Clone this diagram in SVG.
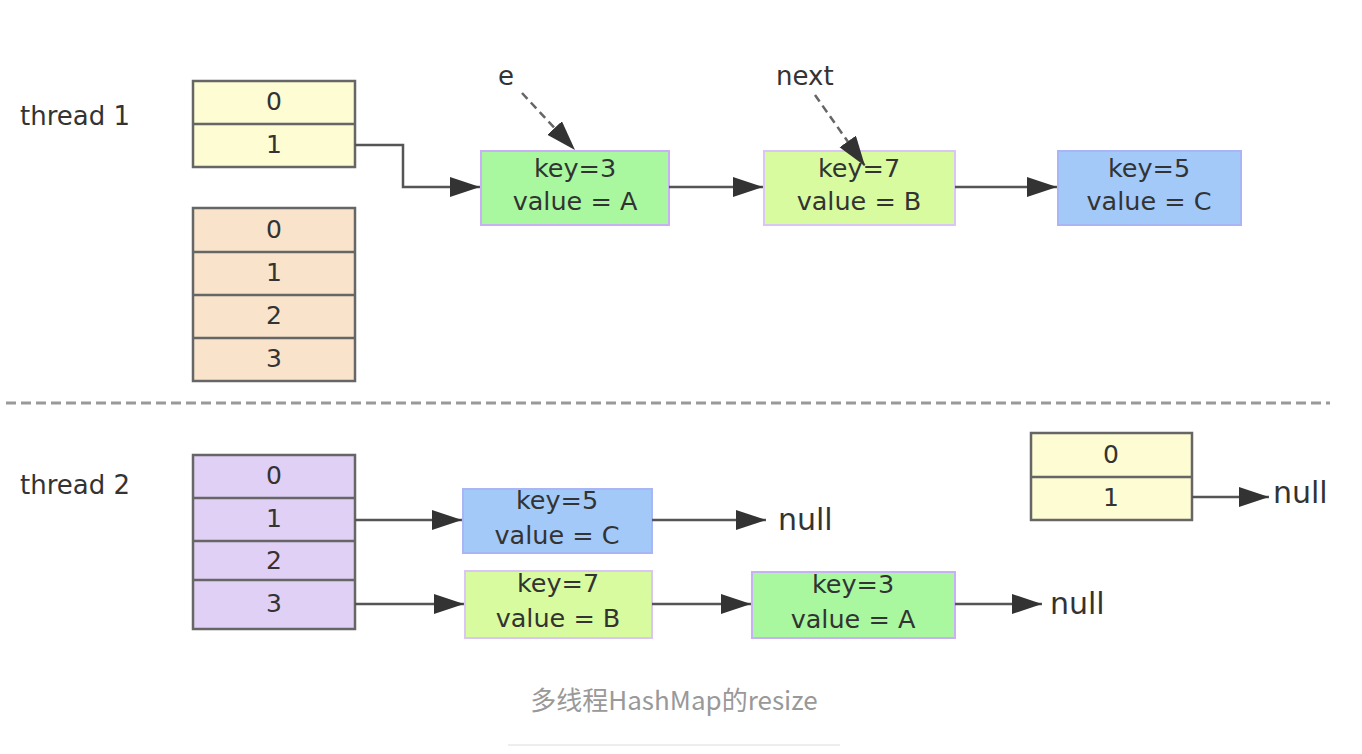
<svg xmlns="http://www.w3.org/2000/svg" width="1362" height="754" viewBox="0 0 1362 754">
<defs>
<marker id="ah" markerUnits="userSpaceOnUse" markerWidth="32" markerHeight="22" refX="30" refY="10" orient="auto">
<path d="M0,0 L30,10 L0,20 z" fill="#333"/>
</marker>
<style>
text{font-family:"DejaVu Sans","Liberation Sans",sans-serif;fill:#333}
.lbl{font-size:26px}
.num{font-size:25px;text-anchor:middle}
.kv{font-size:25.5px;text-anchor:middle}
.nul{font-size:30px}
.tbl{stroke:#666;stroke-width:2.5}
.yel{fill:#fdfcd3}
.pch{fill:#f9e3cb}
.pur{fill:#e0d0f6}
.conn{fill:none;stroke:#555;stroke-width:2.5;marker-end:url(#ah)}
.dash{fill:none;stroke:#666;stroke-width:2.5;stroke-dasharray:8,5;marker-end:url(#ah)}
.nA{fill:#a9f8a0;stroke:#c7b0f3;stroke-width:2}
.nB{fill:#d9fb9f;stroke:#d9c6f5;stroke-width:2}
.nC{fill:#a3c9f8;stroke:#a9b5f5;stroke-width:2}
</style>
</defs>
<rect width="1362" height="754" fill="#fff"/>

<g id="labels">
<text class="lbl" x="20" y="125">thread 1</text>
<text class="lbl" x="20" y="494">thread 2</text>
<text class="lbl" x="498" y="85">e</text>
<text class="lbl" x="776" y="85">next</text>
</g>

<g id="t1-table">
<rect class="tbl yel" x="193" y="81" width="162" height="86"/>
<line class="tbl" x1="193" y1="124" x2="355" y2="124"/>
<text class="num" x="274" y="110">0</text>
<text class="num" x="274" y="153">1</text>
</g>

<g id="t1-newtable">
<rect class="tbl pch" x="193" y="208" width="162" height="173"/>
<line class="tbl" x1="193" y1="252" x2="355" y2="252"/>
<line class="tbl" x1="193" y1="295" x2="355" y2="295"/>
<line class="tbl" x1="193" y1="338" x2="355" y2="338"/>
<text class="num" x="274" y="238">0</text>
<text class="num" x="274" y="281">1</text>
<text class="num" x="274" y="324">2</text>
<text class="num" x="274" y="367">3</text>
</g>

<g id="t1-nodeA">
<rect class="nA" x="481" y="151" width="188" height="74"/>
<text class="kv" x="575" y="177">key=3</text>
<text class="kv" x="575" y="210">value = A</text>
</g>
<g id="t1-nodeB">
<rect class="nB" x="764" y="151" width="191" height="74"/>
<text class="kv" x="859" y="177">key=7</text>
<text class="kv" x="859" y="210">value = B</text>
</g>
<g id="t1-nodeC">
<rect class="nC" x="1058" y="151" width="183" height="74"/>
<text class="kv" x="1149" y="177">key=5</text>
<text class="kv" x="1149" y="210">value = C</text>
</g>

<line x1="6" y1="403" x2="1330" y2="403" stroke="#999" stroke-width="3" stroke-dasharray="10,5"/>

<g id="t2-table">
<rect class="tbl pur" x="193" y="455" width="162" height="174"/>
<line class="tbl" x1="193" y1="498" x2="355" y2="498"/>
<line class="tbl" x1="193" y1="541" x2="355" y2="541"/>
<line class="tbl" x1="193" y1="580" x2="355" y2="580"/>
<text class="num" x="274" y="484">0</text>
<text class="num" x="274" y="527">1</text>
<text class="num" x="274" y="569">2</text>
<text class="num" x="274" y="612">3</text>
</g>

<g id="t2-nodeC">
<rect class="nC" x="463" y="489" width="189" height="64"/>
<text class="kv" x="557" y="509">key=5</text>
<text class="kv" x="557" y="544">value = C</text>
</g>
<g id="t2-nodeB">
<rect class="nB" x="465" y="571" width="187" height="67"/>
<text class="kv" x="558" y="592">key=7</text>
<text class="kv" x="558" y="627">value = B</text>
</g>
<g id="t2-nodeA">
<rect class="nA" x="752" y="572" width="203" height="66"/>
<text class="kv" x="853" y="593">key=3</text>
<text class="kv" x="853" y="628">value = A</text>
</g>

<g id="t2-oldtable">
<rect class="tbl yel" x="1031" y="433" width="161" height="87"/>
<line class="tbl" x1="1031" y1="477" x2="1192" y2="477"/>
<text class="num" x="1111" y="463">0</text>
<text class="num" x="1111" y="506">1</text>
</g>

<g id="nulls">
<text class="nul" x="778" y="530">null</text>
<text class="nul" x="1050" y="614">null</text>
<text class="nul" x="1273" y="503">null</text>
</g>

<g id="connectors">
<path class="conn" d="M355,145 H403 V187 H480"/>
<path class="conn" d="M669,187 H763"/>
<path class="conn" d="M955,187 H1057"/>
<path class="dash" d="M522,93 L575,150"/>
<path class="dash" d="M815,95 L865,166"/>
<path class="conn" d="M355,520 H462"/>
<path class="conn" d="M355,604 H464"/>
<path class="conn" d="M652,520 H766"/>
<path class="conn" d="M652,604 H751"/>
<path class="conn" d="M955,604 H1042"/>
<path class="conn" d="M1192,497 H1269"/>
</g>

<g id="caption">
<text x="674" y="710" text-anchor="middle" style="font-family:'Noto Sans CJK SC','Noto Sans',sans-serif;font-size:26px;fill:#999">多线程HashMap的resize</text>
<line x1="508" y1="745" x2="840" y2="745" stroke="#eee" stroke-width="2"/>
</g>
</svg>
